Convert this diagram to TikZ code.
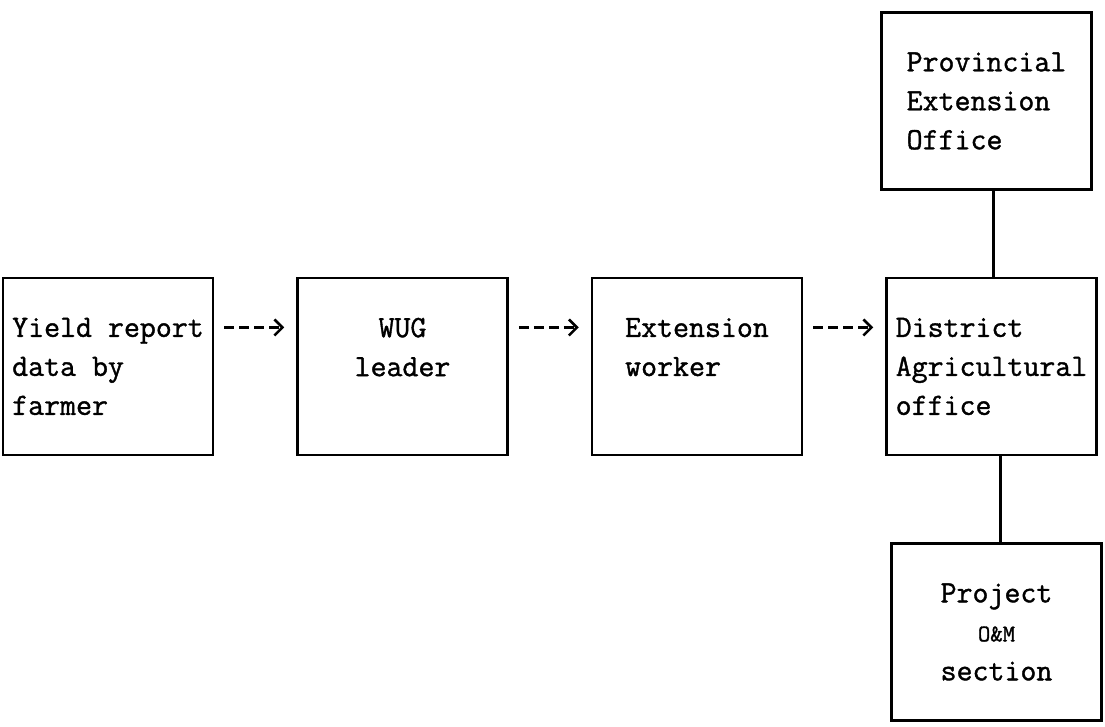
\documentclass[tikz,border=0pt]{standalone}
\usepackage{fontspec}
\newfontfamily\typer[FakeBold=1.2]{Latin Modern Mono}
\usetikzlibrary{arrows.meta, positioning}

\begin{document}
\begin{tikzpicture}
\tikzstyle{office} = [rectangle, draw, line width=1.25pt, minimum width=105pt, minimum height=88.5pt, inner sep=0pt, align=left, font=\typer\fontsize{15.5}{19.5}\selectfont]
\tikzstyle{arrow} = [line width=1.3pt, dash pattern=on 5pt off 2.5pt, -{Straight Barb[length=4pt, width=8pt]}, shorten <=5pt, shorten >=6pt]
\tikzstyle{link} = [line width=1.25pt]

\useasboundingbox (-54pt,183.25pt) rectangle (498.5pt,-180.25pt);

\node (p1) [office] {Yield report\\data by\\farmer};
\node (p2) [office, align=center, right=41pt of p1] {WUG\\leader\\\mbox{}};
\node (p3) [office, right=41pt of p2] {Extension\\worker\\\mbox{}};
\node (p4) [office, right=41pt of p3] {District\\Agricultural\\office};
\node (p5) [office, above=43pt of p4, xshift=-2.5pt] {Provincial\\Extension\\Office};
\node (p6) [office, align=center, below=43pt of p4, xshift=2.5pt] {Project\\{\fontsize{12}{19.5}\selectfont O\&M}\\section};

\draw [arrow] ([yshift=19.5pt]p1.east) -- ([yshift=19.5pt]p2.west);
\draw [arrow] ([yshift=19.5pt]p2.east) -- ([yshift=19.5pt]p3.west);
\draw [arrow] ([yshift=19.5pt]p3.east) -- ([yshift=19.5pt]p4.west);
\draw [link] ([xshift=1pt]p4.north) -- ([xshift=1pt]p4.north |- p5.south);
\draw [link] ([xshift=4.5pt]p4.south) -- ([xshift=4.5pt]p4.south |- p6.north);

\end{tikzpicture}
\end{document}
